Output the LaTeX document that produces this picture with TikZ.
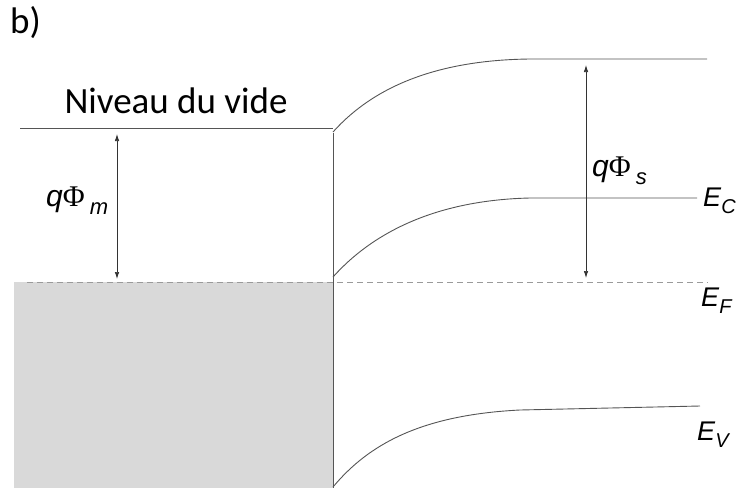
\documentclass[tikz,border=0pt]{standalone}
\usepackage{fontspec}
\setmainfont{Carlito}
\newfontfamily\arialfont{Liberation Sans}
\newfontfamily\timesfont{Liberation Serif}
\usetikzlibrary{arrows.meta}
\definecolor{linec}{HTML}{555555}
\definecolor{fillc}{HTML}{D9D9D9}
\definecolor{dashc}{HTML}{9A9A9A}
\newcommand{\bigphi}{{\timesfont\fontsize{30}{32}\selectfont Φ}}
\newcommand{\lowsub}[1]{\raisebox{-7pt}{\fontsize{20}{22}\selectfont\textit{#1}}}
\newcommand{\phisub}[1]{\,\raisebox{-8pt}{\fontsize{22}{24}\selectfont\textit{#1}}}
\tikzset{
  band/.style={draw=linec, line width=0.9pt},
  energyarrow/.style={draw=black!80, line width=0.7pt, {Latex[length=7pt,width=4.5pt]}-{Latex[length=7pt,width=4.5pt]}},
  lbl/.style={inner sep=0pt, font=\arialfont\fontsize{27}{30}\selectfont},
  philbl/.style={inner sep=0pt, font=\arialfont\fontsize{30}{32}\selectfont},
  txt/.style={inner sep=0pt, font=\fontsize{37}{40}\selectfont}
}
\begin{document}
\begin{tikzpicture}[x=1pt, y=-1pt]
\useasboundingbox (0,0) rectangle (740,488);
% metal filled region
\fill[fillc] (14,282) rectangle (333,488);
% Fermi level
\draw[dashc, line width=0.9pt, dash pattern=on 6pt off 4pt] (27,282) -- (708,282);
% metal vacuum level
\draw[band] (20,128) -- (333,128);
% interface
\draw[band] (333,133) -- (333,488);
% semiconductor bands
\draw[band] (333,132) .. controls (375,85) and (440,60) .. (530,59) -- (707,59);
\draw[band] (333,277) .. controls (375,230) and (440,200) .. (530,198) -- (697,198);
\draw[band] (333,487) .. controls (368,445) and (420,415) .. (520,410) -- (700,406);
% arrows
\coordinate (m1) at (117,134);
\coordinate (m2) at (117,279);
\draw[energyarrow] (m1) -- (m2);
\coordinate (s1) at (586,65);
\coordinate (s2) at (586,278);
\draw[energyarrow] (s1) -- (s2);
% labels
\node[txt, anchor=base west] (b) at (10,33) {b)};
\node[txt, anchor=base] (nv) at (176,113) {Niveau du vide};
\node[philbl, anchor=base west] (qm) at (46,206) {\textit{q}\bigphi\phisub{m}};
\node[philbl, anchor=base west] (qs) at (592,176) {\textit{q}\bigphi\phisub{s}};
\node[lbl, anchor=base west] (ec) at (703,206) {\textit{E}\lowsub{C}};
\node[lbl, anchor=base west] (ef) at (701,306) {\textit{E}\lowsub{F}};
\node[lbl, anchor=base west] (ev) at (697,440) {\textit{E}\lowsub{V}};
\end{tikzpicture}
\end{document}
